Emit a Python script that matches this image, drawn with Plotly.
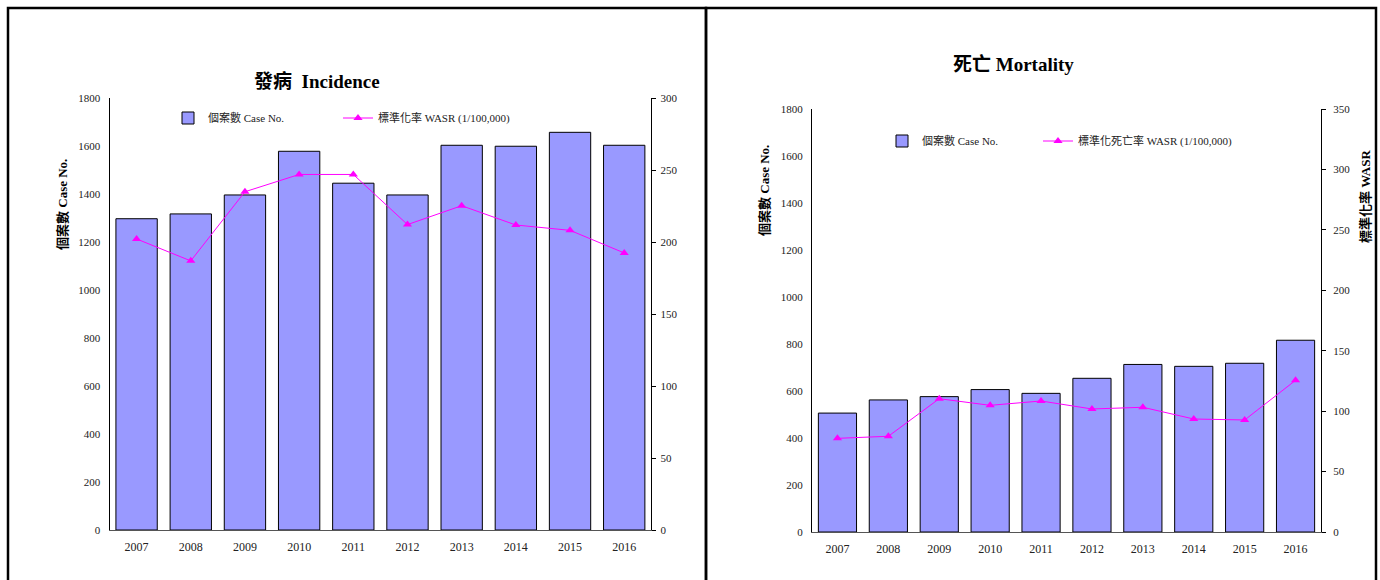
import plotly.graph_objects as go

# ---- data ----
years = ["2007", "2008", "2009", "2010", "2011", "2012", "2013", "2014", "2015", "2016"]

incidence_cases = [1297, 1317, 1396, 1578, 1445, 1396, 1603, 1599, 1657, 1603]
incidence_wasr = [202.1, 186.9, 234.9, 246.9, 246.9, 212.1, 225.2, 211.8, 208.1, 192.4]

mortality_cases = [506, 562, 576, 606, 590, 654, 713, 705, 718, 816]
mortality_wasr = [77.5, 79.2, 110.3, 104.8, 108.4, 101.8, 103.2, 93.5, 92.7, 125.5]

W, H = 1380, 580
FONT = "Liberation Serif, 'Noto Sans CJK TC', serif"
BAR_FILL = "#9999FF"
LINE_COLOR = "#FF00FF"


def px_x(x):
    return x / W


def px_y(y):
    return 1 - y / H


fig = go.Figure()

# ---- left panel: incidence ----
fig.add_trace(go.Bar(
    x=years, y=incidence_cases, name="個案數 Case No.",
    marker=dict(color=BAR_FILL, line=dict(color="black", width=1)),
    width=0.763,
    xaxis="x", yaxis="y", legend="legend",
))
fig.add_trace(go.Scatter(
    x=years, y=incidence_wasr, name="標準化率 WASR (1/100,000)",
    mode="lines+markers",
    line=dict(color=LINE_COLOR, width=1),
    marker=dict(symbol="triangle-up", size=8, color=LINE_COLOR),
    xaxis="x", yaxis="y2", legend="legend2",
))

# ---- right panel: mortality ----
fig.add_trace(go.Bar(
    x=years, y=mortality_cases, name="個案數 Case No.",
    marker=dict(color=BAR_FILL, line=dict(color="black", width=1)),
    width=0.75,
    xaxis="x3", yaxis="y3", legend="legend3",
))
fig.add_trace(go.Scatter(
    x=years, y=mortality_wasr, name="標準化死亡率 WASR (1/100,000)",
    mode="lines+markers",
    line=dict(color=LINE_COLOR, width=1),
    marker=dict(symbol="triangle-up", size=8, color=LINE_COLOR),
    xaxis="x3", yaxis="y4", legend="legend4",
))

tick_font = dict(family=FONT, size=11, color="#222")
xtick_font = dict(family=FONT, size=12, color="#222")

left_dom_x = [px_x(109.5), px_x(651.3)]
left_dom_y = [px_y(530), px_y(98)]
right_dom_x = [px_x(812), px_x(1321)]
right_dom_y = [px_y(532), px_y(109)]

xaxis_common = dict(
    type="category", range=[-0.5, len(years) - 0.5], showline=True,
    linecolor="#555", linewidth=1,
    ticks="", showgrid=False, zeroline=False, tickfont=xtick_font,
    ticklabelstandoff=6, automargin=False,
)
yleft_common = dict(
    range=[0, 1800], dtick=200, showline=True, linecolor="black", linewidth=1,
    ticks="", showgrid=False, zeroline=False, tickfont=tick_font,
    ticklabelstandoff=6, automargin=False,
)
yright_common = dict(
    side="right", showline=True, linecolor="black", linewidth=1,
    ticks="outside", ticklen=4, tickcolor="black", showgrid=False,
    zeroline=False, tickfont=tick_font, automargin=False,
)


def legend_at(x, y):
    return dict(
        orientation="h", x=px_x(x), y=px_y(y), xanchor="left", yanchor="middle",
        font=dict(family=FONT, size=11, color="#222"), bgcolor="rgba(0,0,0,0)",
        itemwidth=30,
    )


fig.update_layout(
    width=W, height=H, autosize=False,
    margin=dict(l=0, r=0, t=0, b=0, pad=0, autoexpand=False),
    paper_bgcolor="white", plot_bgcolor="white",
    font=dict(family=FONT, color="#222"),
    showlegend=True,
    xaxis=dict(domain=left_dom_x, anchor="y", **xaxis_common),
    yaxis=dict(domain=left_dom_y, anchor="x", **yleft_common),
    yaxis2=dict(overlaying="y", anchor="x", range=[0, 300], dtick=50,
                ticklabelstandoff=2, **yright_common),
    xaxis3=dict(domain=right_dom_x, anchor="y3", **xaxis_common),
    yaxis3=dict(domain=right_dom_y, anchor="x3", **yleft_common),
    yaxis4=dict(overlaying="y3", anchor="x3", range=[0, 350], dtick=50,
                ticklabelstandoff=5, **yright_common),
    legend=legend_at(168, 118),
    legend2=legend_at(338, 118),
    legend3=legend_at(882, 141),
    legend4=legend_at(1038, 141),
)


def label(text, x, y, size, angle=0):
    return dict(text=text, x=px_x(x), y=px_y(y), xref="paper", yref="paper",
                xanchor="center", yanchor="middle", showarrow=False, textangle=angle,
                font=dict(family=FONT, size=size, color="black"))


fig.update_layout(annotations=[
    label("<b>發病  Incidence</b>", 317, 81, 19),
    label("<b>死亡 Mortality</b>", 1013, 65, 19),
    label("<b>個案數 Case No.</b>", 62, 205, 13, -90),
    label("<b>個案數 Case No.</b>", 764, 190, 13, -90),
    label("<b>標準化率 WASR</b>", 1366, 197, 13, -90),
])

# panel frames
fig.update_layout(shapes=[
    dict(type="rect", xref="paper", yref="paper",
         x0=px_x(8), x1=px_x(706), y0=-0.2, y1=px_y(8),
         line=dict(color="black", width=2.5), fillcolor="rgba(0,0,0,0)", layer="above"),
    dict(type="rect", xref="paper", yref="paper",
         x0=px_x(706), x1=px_x(1376), y0=-0.2, y1=px_y(8),
         line=dict(color="black", width=2.5), fillcolor="rgba(0,0,0,0)", layer="above"),
])

fig.write_html("out.html")
